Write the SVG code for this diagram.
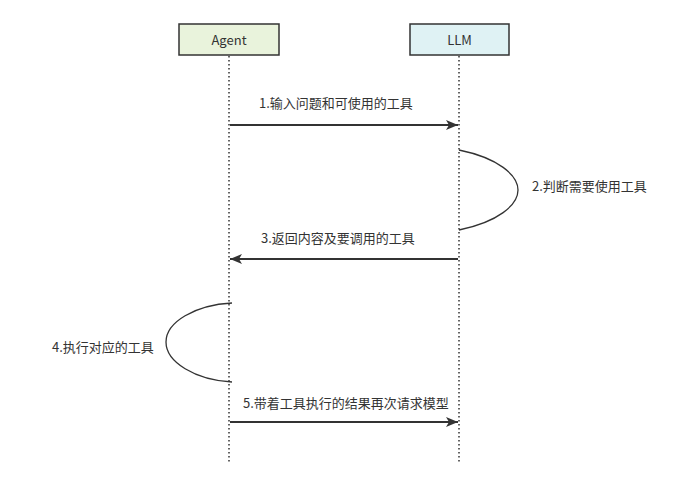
<svg xmlns="http://www.w3.org/2000/svg" width="694" height="487" viewBox="0 0 694 487">
<style>
text{font-family:"Microsoft YaHei","Noto Sans CJK SC","Liberation Sans",sans-serif;font-size:13px;fill:#333}
.box{stroke:#333;stroke-width:1.5}
.life{stroke:#333;stroke-width:1.5;stroke-dasharray:1.5 2.5;fill:none}
.msg{stroke:#333;stroke-width:2;fill:none}
</style>
<defs>
<marker id="ah" markerWidth="12" markerHeight="10" refX="12" refY="5" orient="auto" markerUnits="userSpaceOnUse">
<path d="M0,0 L12,5 L0,10 L3,5 Z" fill="#333"/>
</marker>
</defs>
<rect width="694" height="487" fill="#fff"/>
<g id="agent">
<rect class="box" x="179" y="24" width="100" height="31" fill="#e9f3dc"/>
<text x="229" y="44.5" text-anchor="middle">Agent</text>
<line class="life" x1="229" y1="56" x2="229" y2="463"/>
</g>
<g id="llm">
<rect class="box" x="410" y="24" width="99" height="31" fill="#dff2f4"/>
<text x="459.5" y="44.5" text-anchor="middle">LLM</text>
<line class="life" x1="459" y1="56" x2="459" y2="463"/>
</g>
<g id="connectors">
<line class="msg" x1="230" y1="125" x2="458" y2="125" marker-end="url(#ah)"/>
<text x="259" y="108">1.输入问题和可使用的工具</text>
<path d="M459,150 C498,158 518,175 518,190 C518,205 498,222 459,230" stroke="#333" stroke-width="1.3" fill="none"/>
<text x="532" y="191">2.判断需要使用工具</text>
<line class="msg" x1="458" y1="259" x2="230" y2="259" marker-end="url(#ah)"/>
<text x="261" y="243">3.返回内容及要调用的工具</text>
<path d="M232,303 C195,305 166,322 166,342 C166,362 195,380 232,382" stroke="#333" stroke-width="1.3" fill="none"/>
<text x="52" y="352">4.执行对应的工具</text>
<line class="msg" x1="230" y1="422" x2="458" y2="422" marker-end="url(#ah)"/>
<text x="243" y="408">5.带着工具执行的结果再次请求模型</text>
</g>
</svg>
